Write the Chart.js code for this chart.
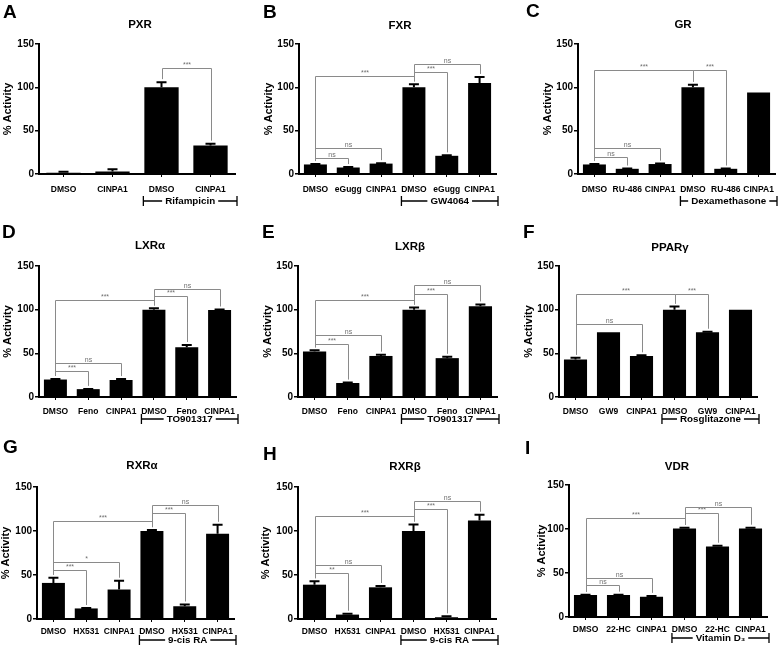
<!DOCTYPE html>
<html>
<head>
<meta charset="utf-8">
<script src="https://cdn.jsdelivr.net/npm/chart.js@4/dist/chart.umd.min.js"></script>
<style>
  body { margin:0; background:#fff; overflow:hidden; }
  #fig { position:relative; width:781px; height:651px; }
</style>
</head>
<body>
<div id="fig"></div>
<script>
// ======================================================
// Data (values in % activity, errors are upper SEM bars)
// sig entries: [bar i, bar j, bracket height, label]
// group entries: [first bar, last bar, treatment]
// ======================================================

const pxrLabels = ["DMSO", "CINPA1", "DMSO", "CINPA1"];
const pxrValues = [1.5, 3, 100, 33];
const pxrErrors = [1, 2.5, 6, 2];
const pxrSig = [[2, 3, 122, "***"]];
const pxrGroup = [2, 3, "Rifampicin"];

const fxrLabels = ["DMSO", "eGugg", "CINPA1", "DMSO", "eGugg", "CINPA1"];
const fxrValues = [11, 7.5, 12, 100, 21, 105];
const fxrErrors = [0.5, 0.5, 0.5, 3.5, 0.5, 7];
const fxrSig = [[0, 3, 113, "***"], [3, 4, 118, "***"], [3, 5, 127, "ns"], [0, 1, 19, "ns"], [0, 2, 30, "ns"]];
const fxrGroup = [3, 5, "GW4064"];

const grLabels = ["DMSO", "RU-486", "CINPA1", "DMSO", "RU-486", "CINPA1"];
const grValues = [11, 6, 11.5, 100, 6, 94];
const grErrors = [0.5, 0.3, 0.5, 3, 0.3, 0];
const grSig = [[0, 3, 119.5, "***"], [3, 4, 119.5, "***"], [0, 1, 20, "ns"], [0, 2, 30, "ns"]];
const grGroup = [3, 5, "Dexamethasone"];

const lxraLabels = ["DMSO", "Feno", "CINPA1", "DMSO", "Feno", "CINPA1"];
const lxraValues = [20, 9, 19.5, 100, 57, 99.5];
const lxraErrors = [0.7, 0.3, 1, 1.5, 2.5, 0.7];
const lxraSig = [[0, 3, 111.5, "***"], [3, 4, 116, "***"], [3, 5, 123.5, "ns"], [0, 1, 29.5, "***"], [0, 2, 39, "ns"]];
const lxraGroup = [3, 5, "TO901317"];

const lxrbLabels = ["DMSO", "Feno", "CINPA1", "DMSO", "Feno", "CINPA1"];
const lxrbValues = [52, 16, 47, 100, 44.5, 104];
const lxrbErrors = [1.5, 0.5, 1.5, 2.5, 1.5, 2];
const lxrbSig = [[0, 3, 111, "***"], [3, 4, 117.5, "***"], [3, 5, 128, "ns"], [0, 1, 61, "***"], [0, 2, 71, "ns"]];
const lxrbGroup = [3, 5, "TO901317"];

const pparLabels = ["DMSO", "GW9", "CINPA1", "DMSO", "GW9", "CINPA1"];
const pparValues = [43, 74, 47, 100, 74, 100];
const pparErrors = [2, 0, 0.7, 3.5, 0.7, 0];
const pparSig = [[0, 3, 118, "***"], [3, 4, 118, "***"], [0, 2, 84, "ns"]];
const pparGroup = [3, 5, "Rosglitazone"];

const rxraLabels = ["DMSO", "HX531", "CINPA1", "DMSO", "HX531", "CINPA1"];
const rxraValues = [41, 12, 33.5, 100, 14.5, 97];
const rxraErrors = [6, 0.5, 10, 1, 2, 10];
const rxraSig = [[0, 3, 111.5, "***"], [3, 4, 120, "***"], [3, 5, 129, "ns"], [0, 1, 56, "***"], [0, 2, 64.5, "*"]];
const rxraGroup = [3, 5, "9-cis RA"];

const rxrbLabels = ["DMSO", "HX531", "CINPA1", "DMSO", "HX531", "CINPA1"];
const rxrbValues = [39, 5, 36, 100, 2, 112];
const rxrbErrors = [4, 1, 1.5, 7.5, 1, 6.5];
const rxrbSig = [[0, 3, 117.5, "***"], [3, 4, 125, "***"], [3, 5, 134.5, "ns"], [0, 1, 52, "**"], [0, 2, 61, "ns"]];
const rxrbGroup = [3, 5, "9-cis RA"];

const vdrLabels = ["DMSO", "22-HC", "CINPA1", "DMSO", "22-HC", "CINPA1"];
const vdrValues = [25, 25, 23, 100.5, 80, 100.5];
const vdrErrors = [0.4, 0.4, 1, 1, 1, 1];
const vdrSig = [[0, 3, 113, "***"], [3, 4, 118, "***"], [3, 5, 125.5, "ns"], [0, 1, 36.5, "ns"], [0, 2, 44, "ns"]];
const vdrGroup = [3, 5, "Vitamin D\u2083"];

const yTicks = [0, 50, 100, 150];

// ======================================================
// Layout (page pixels)
// cell = canvas box, ax/rx = axis left/right, ty/by = y of 150 / 0
// ======================================================

const FONT = "'Liberation Sans', Arial, sans-serif";

const layout = [
  { cx:0,   cy:0,   cw:260, ch:215, ax:39,  rx:235, ty:44,  by:174, tx:140, tty:25,  yx:8,   lx:3,   ly:12,  lp:8, gy:27 },
  { cx:260, cy:0,   cw:260, ch:215, ax:299, rx:496, ty:44,  by:174, tx:400, tty:26,  yx:269, lx:263, ly:12,  lp:8, gy:27 },
  { cx:520, cy:0,   cw:261, ch:215, ax:578, rx:775, ty:44,  by:174, tx:683, tty:25,  yx:548, lx:526, ly:11,  lp:8, gy:27 },
  { cx:0,   cy:215, cw:260, ch:215, ax:39,  rx:236, ty:266, by:397, tx:150, tty:246, yx:8,   lx:2,   ly:232, lp:7, gy:22 },
  { cx:260, cy:215, cw:260, ch:215, ax:298, rx:497, ty:266, by:397, tx:410, tty:247, yx:268, lx:262, ly:232, lp:7, gy:22 },
  { cx:520, cy:215, cw:261, ch:215, ax:559, rx:757, ty:266, by:397, tx:670, tty:248, yx:529, lx:523, ly:232, lp:7, gy:22 },
  { cx:0,   cy:430, cw:260, ch:221, ax:37,  rx:234, ty:487, by:619, tx:142, tty:466, yx:6,   lx:3,   ly:447, lp:5, gy:21 },
  { cx:260, cy:430, cw:260, ch:221, ax:298, rx:496, ty:487, by:619, tx:405, tty:467, yx:266, lx:263, ly:454, lp:5, gy:21 },
  { cx:520, cy:430, cw:261, ch:221, ax:569, rx:767, ty:485, by:617, tx:677, tty:467, yx:542, lx:525, ly:448, lp:5, gy:21 }
];

const panels = [
  { letter:"A", title:"PXR",    labels:pxrLabels,  values:pxrValues,  errors:pxrErrors,  sig:pxrSig,  group:pxrGroup },
  { letter:"B", title:"FXR",    labels:fxrLabels,  values:fxrValues,  errors:fxrErrors,  sig:fxrSig,  group:fxrGroup },
  { letter:"C", title:"GR",     labels:grLabels,   values:grValues,   errors:grErrors,   sig:grSig,   group:grGroup },
  { letter:"D", title:"LXR\u03b1", labels:lxraLabels, values:lxraValues, errors:lxraErrors, sig:lxraSig, group:lxraGroup },
  { letter:"E", title:"LXR\u03b2", labels:lxrbLabels, values:lxrbValues, errors:lxrbErrors, sig:lxrbSig, group:lxrbGroup },
  { letter:"F", title:"PPAR\u03b3", labels:pparLabels, values:pparValues, errors:pparErrors, sig:pparSig, group:pparGroup },
  { letter:"G", title:"RXR\u03b1", labels:rxraLabels, values:rxraValues, errors:rxraErrors, sig:rxraSig, group:rxraGroup },
  { letter:"H", title:"RXR\u03b2", labels:rxrbLabels, values:rxrbValues, errors:rxrbErrors, sig:rxrbSig, group:rxrbGroup },
  { letter:"I", title:"VDR",    labels:vdrLabels,  values:vdrValues,  errors:vdrErrors,  sig:vdrSig,  group:vdrGroup }
];

// ======================================================
// Overlay: error bars, significance brackets, group bar,
// titles, panel letters, y axis title
// ======================================================

function overlay(p, box) {
  return {
    id: "overlay",
    afterDraw(chart) {
      const ctx = chart.ctx;
      const xs = chart.scales.x;
      const ys = chart.scales.y;
      const bars = chart.getDatasetMeta(0).data;
      const catW = xs.width / p.labels.length;
      ctx.save();

      // error bars
      ctx.strokeStyle = "#000";
      ctx.lineWidth = 2;
      p.values.forEach((v, i) => {
        const e = p.errors[i];
        if (!e) return;
        const x = bars[i].x;
        const y0 = ys.getPixelForValue(v);
        const y1 = ys.getPixelForValue(v + e);
        ctx.beginPath();
        ctx.moveTo(x, y0); ctx.lineTo(x, y1);
        ctx.moveTo(x - 5, y1); ctx.lineTo(x + 5, y1);
        ctx.stroke();
      });

      // significance brackets
      ctx.strokeStyle = "#8a8a8a";
      ctx.fillStyle = "#707070";
      ctx.lineWidth = 1;
      ctx.font = "7px " + FONT;
      ctx.textAlign = "center";
      ctx.textBaseline = "alphabetic";
      p.sig.forEach(([i, j, h, label]) => {
        const xi = Math.round(bars[i].x) + 0.5;
        const xj = Math.round(bars[j].x) + 0.5;
        const yh = Math.round(ys.getPixelForValue(h)) + 0.5;
        const yi = ys.getPixelForValue(p.values[i] + p.errors[i]) - 3;
        const yj = ys.getPixelForValue(p.values[j] + p.errors[j]) - 3;
        ctx.beginPath();
        ctx.moveTo(xi, yi); ctx.lineTo(xi, yh);
        ctx.lineTo(xj, yh); ctx.lineTo(xj, yj);
        ctx.stroke();
        ctx.fillText(label, (xi + xj) / 2, yh - 1.5);
      });

      // treatment group bar under the axis
      const [g0, g1, gName] = p.group;
      const xl = bars[g0].x - bars[g0].width / 2 - 1;
      const xr = bars[g1].x + catW / 2 + 2;
      const yb = box.by - box.cy + box.gy;
      const mid = (xl + xr) / 2;
      ctx.font = "bold 9.8px " + FONT;
      ctx.fillStyle = "#000";
      ctx.strokeStyle = "#000";
      ctx.lineWidth = 1.3;
      ctx.textBaseline = "middle";
      const tw = ctx.measureText(gName).width;
      ctx.beginPath();
      ctx.moveTo(xl, yb - 5); ctx.lineTo(xl, yb + 5);
      ctx.moveTo(xr, yb - 5); ctx.lineTo(xr, yb + 5);
      ctx.moveTo(xl, yb); ctx.lineTo(mid - tw / 2 - 3, yb);
      ctx.moveTo(mid + tw / 2 + 3, yb); ctx.lineTo(xr, yb);
      ctx.stroke();
      ctx.fillText(gName, mid, yb);

      // chart title
      ctx.font = "bold 11.5px " + FONT;
      ctx.fillText(p.title, box.tx - box.cx, box.tty - box.cy);

      // panel letter
      ctx.font = "bold 19px " + FONT;
      ctx.textAlign = "left";
      ctx.fillText(p.letter, box.lx - box.cx, box.ly - box.cy + 1);

      // y axis title
      ctx.translate(box.yx - box.cx, (box.ty + box.by) / 2 - box.cy);
      ctx.rotate(-Math.PI / 2);
      ctx.font = "bold 11px " + FONT;
      ctx.textAlign = "center";
      ctx.fillText("% Activity", 0, 0);

      ctx.restore();
    }
  };
}

// ======================================================
// Panels
// ======================================================

const fig = document.getElementById("fig");
const YW = 30;
const XH = 20;

panels.forEach((p, k) => {
  const box = layout[k];
  const canvas = document.createElement("canvas");
  canvas.width = box.cw;
  canvas.height = box.ch;
  canvas.style.cssText =
    `position:absolute;left:${box.cx}px;top:${box.cy}px;width:${box.cw}px;height:${box.ch}px`;
  fig.appendChild(canvas);

  new Chart(canvas, {
    type: "bar",
    data: {
      labels: p.labels,
      datasets: [{
        data: p.values,
        backgroundColor: "#000",
        borderWidth: 0,
        barPercentage: 0.7,
        categoryPercentage: 1
      }]
    },
    options: {
      responsive: false,
      animation: false,
      devicePixelRatio: 1,
      layout: {
        padding: {
          left: box.ax - box.cx - YW,
          right: box.cx + box.cw - box.rx,
          top: box.ty - box.cy,
          bottom: box.cy + box.ch - box.by - XH
        }
      },
      plugins: {
        legend: { display: false },
        tooltip: { enabled: false }
      },
      scales: {
        x: {
          offset: true,
          grid: { drawOnChartArea: false, offset: false, tickLength: 3, color: "#000", lineWidth: 1 },
          border: { display: true, color: "#000", width: 2 },
          ticks: {
            color: "#000",
            font: { family: FONT, size: 8.5, weight: "bold" },
            maxRotation: 0,
            autoSkip: false,
            padding: box.lp
          },
          afterFit: s => { s.height = XH; s.paddingLeft = 0; s.paddingRight = 0; }
        },
        y: {
          min: 0,
          max: 150,
          afterBuildTicks: s => { s.ticks = yTicks.map(v => ({ value: v })); },
          grid: { drawOnChartArea: false, tickLength: 4, color: "#000", lineWidth: 1.5 },
          border: { display: true, color: "#000", width: 2 },
          ticks: {
            color: "#000",
            font: { family: FONT, size: 10, weight: "bold" },
            padding: 1
          },
          afterFit: s => { s.width = YW; s.paddingTop = 0; s.paddingBottom = 0; }
        }
      }
    },
    plugins: [overlay(p, box)]
  });
});
</script>
</body>
</html>
